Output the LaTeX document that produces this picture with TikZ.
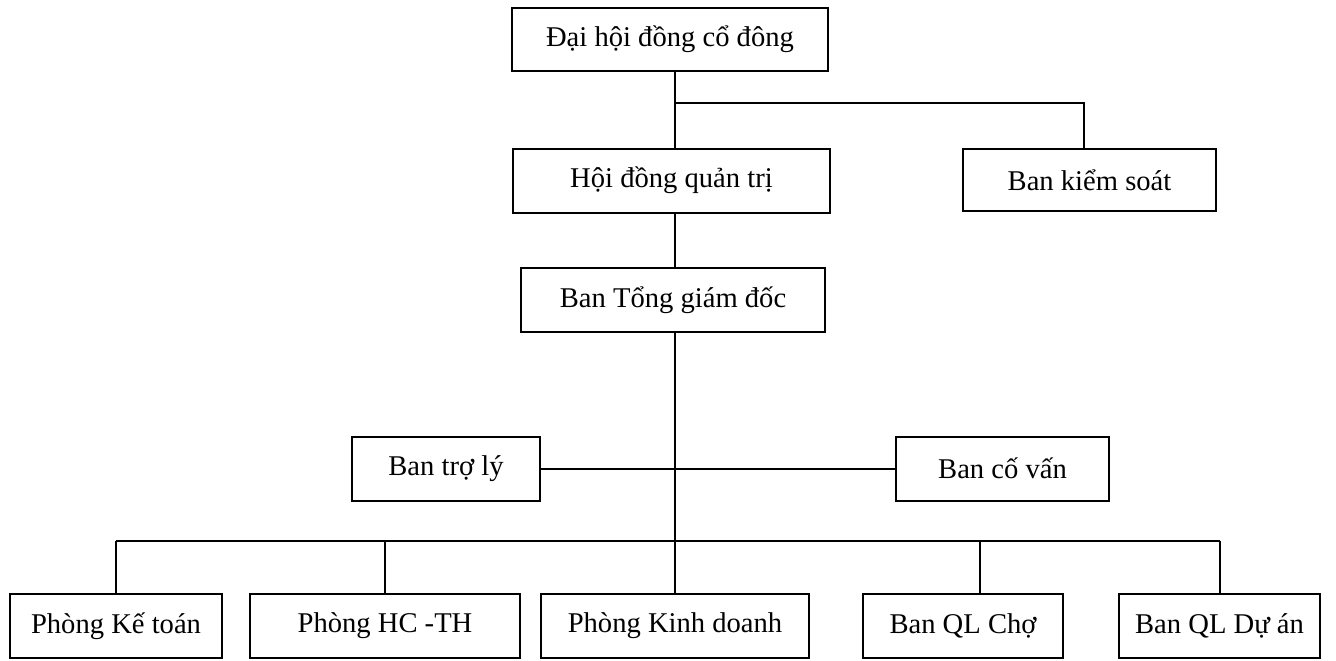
\documentclass[tikz,border=0pt]{standalone}
\usepackage{fontspec}
\setmainfont{Liberation Serif}
\tikzset{
  box/.style={draw, line width=1pt, inner sep=0pt, minimum height=32pt,
    font=\fontsize{14.3}{17}\selectfont},
  link/.style={line width=1pt}
}
\begin{document}
\begin{tikzpicture}[x=0.5pt,y=-0.5pt]
\useasboundingbox (0,0) rectangle (1336,660);
\def\toprow{626}

\node[box, minimum width=158pt, minimum height=31.5pt] (dhcd) at (670,39.5) {Đại hội đồng cổ đông};
\node[box, minimum width=158.5pt] (hdqt) at (671.5,180.5) {Hội đồng quản trị};
\node[box, minimum width=126.5pt, minimum height=31pt] (bks) at (1089.5,180) {Ban kiểm soát};
\node[box, minimum width=152pt] (tgd) at (673,300) {Ban Tổng giám đốc};
\node[box, minimum width=94pt] (trolu) at (446,468.5) {Ban trợ lý};
\node[box, minimum width=106.5pt] (covan) at (1002.5,468.5) {Ban cố vấn};

\node[box, minimum width=106pt] (ketoan) at (116,\toprow) {Phòng Kế toán};
\node[box, minimum width=135pt] (hcth) at (385,\toprow) {Phòng HC -TH};
\node[box, minimum width=134pt] (kinhdoanh) at (675,\toprow) {Phòng Kinh doanh};
\node[box, minimum width=100pt] (qlcho) at (963,\toprow) {Ban QL Chợ};
\node[box, minimum width=100.5pt] (qlduan) at (1219.5,\toprow) {Ban QL Dự án};

\coordinate (spine) at (675,103);
\coordinate (bus) at (675,541);

\draw[link] (dhcd.south -| spine) -- (hdqt.north -| spine);
\draw[link] (spine) -| ([xshift=-2.75pt]bks.north);
\draw[link] (hdqt.south -| spine) -- (tgd.north -| spine);
\draw[link] (tgd.south -| spine) -- (bus);
\draw[link] (trolu) -- (covan);

% bus to the departments
\draw[link] (ketoan.north |- bus) -- (qlduan.north |- bus);
\foreach \n in {ketoan,hcth,kinhdoanh,qlduan}
  \draw[link] (\n.north |- bus) -- (\n.north);
\draw[link] ([xshift=8.5pt]qlcho.north |- bus) -- ([xshift=8.5pt]qlcho.north);
\end{tikzpicture}
\end{document}
